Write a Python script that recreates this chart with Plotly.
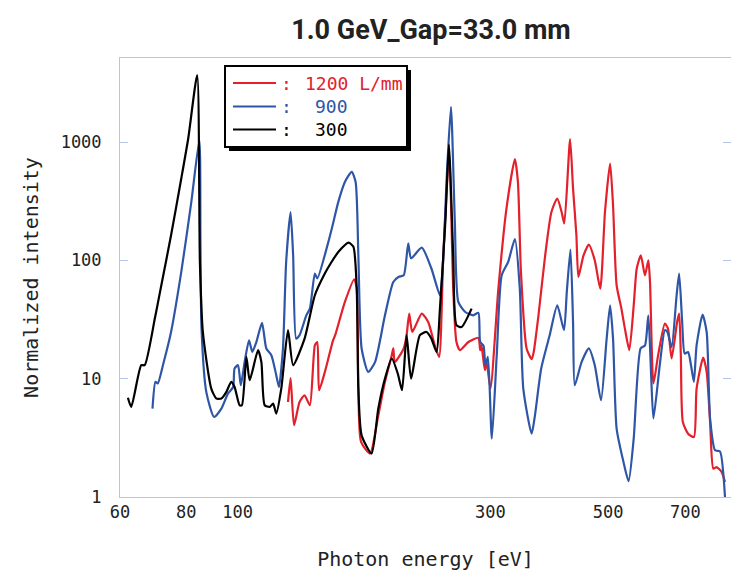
import math
import plotly.graph_objects as go

# ---------------- data ----------------
e300 = [62.1, 63.0, 65.8, 66.8, 69.8, 70.7, 71.8, 74.9, 78.3, 80.7, 83.9, 84.9, 86.0, 89.2, 91.2, 93.2,
        95.2, 97.3, 98.7, 100.9, 101.9, 103.9, 105.4, 109.3, 110.9, 112.5, 115.0, 116.7, 118.3, 120.9,
        124.5, 127.3, 133.8, 139.9, 146.0, 150.0, 155.0, 162.0, 165.4, 167.8, 169.0, 171.4, 179.0,
        184.3, 189.7, 195.4, 200.6, 204.3, 208.4, 212.5, 220.8, 227.2, 232.1, 237.4, 240.9, 246.6,
        250.4, 255.2, 258.8, 264.6, 276.4]
i300 = [6.9, 5.77, 13.0, 13.0, 32.2, 43.1, 61.6, 163, 491, 1071, 3670, 97, 24.8, 8.25, 6.79, 6.8,
        7.7, 9.4, 8.5, 5.96, 5.96, 15.3, 9.7, 17.4, 13.8, 5.96, 5.77, 6.16, 5.07, 8.25,
        25.7, 13.0, 21.8, 50.7, 77, 95, 118, 141, 130, 57.7, 8.25, 3.32, 2.33,
        5.59, 10.0, 14.8, 11.0, 7.98, 23.3, 10.0, 23.3, 24.8, 21.8, 16.8, 39.1, 211,
        950, 110, 28.3, 27.3, 39.1]

e900 = [69.1, 70.0, 70.7, 72.3, 74.9, 78.3, 81.8, 84.7, 85.1, 85.5, 87.3, 90.3, 93.2, 95.9, 98.1, 98.7,
        100.2, 101.4, 103.1, 105.1, 106.6, 108.5, 111.2, 113.3, 115.8, 118.3, 119.7, 121.8, 123.5,
        125.9, 127.3, 129.0, 130.9, 134.8, 136.9, 139.9, 141.4, 148.1, 151.0, 154.9, 159.4, 164.2,
        167.0, 169.0, 171.4, 176.4, 181.7, 189.7, 196.7, 201.2, 205.8, 209.9, 212.5, 222.6, 232.1,
        240.9, 243.4, 248.4, 252.7, 257.0, 260.9, 268.9, 278.4, 284.7, 286.9, 291.0, 293.5, 296.7,
        301.8, 308.3, 315.0, 324.0, 333.6, 340.8, 346.0, 358.8, 364.0, 374.0, 388.0, 401.0, 412.9,
        418.0, 424.7, 429.5, 432.7, 445.7, 460.0, 472.0, 485.0, 497.0, 504.5, 511.0, 519.0, 534.7,
        546.7, 559.0, 576.0, 587.0, 595.7, 602.6, 609.0, 626.0, 640.0, 647.0, 659.0, 673.6, 681.0,
        690.0, 697.6, 708.0, 717.0, 726.0, 734.6, 754.0, 767.5, 779.0, 796.0, 813.0, 831.0]
i900 = [5.59, 9.4, 9.1, 13.0, 24.8, 79.8, 312, 1036, 143, 26.5, 7.7, 4.75, 5.59, 7.48, 8.5, 12.2,
        13.0, 8.8, 13.8, 21.1, 16.8, 20.4, 29.6, 18.0, 15.8, 10.7, 8.5, 18.0, 97,
        256, 110, 21.8, 23.3, 34.3, 39.1, 77.3, 70.4, 139, 195, 312, 460, 559,
        460, 110, 18.0, 11.4, 13.8, 34.3, 65.7, 72.4, 74.7, 139, 104, 128, 85.3,
        50.7, 74.7, 559, 1980, 211, 44.5, 36.6, 34.3, 36.0, 20.4, 19.1, 13.0, 15.3,
        3.12, 15.8, 74.7, 97, 151, 57.7, 8.25, 3.43, 4.9, 12.2, 23.3, 41.7, 25.7,
        54.1, 123, 30.1, 8.8, 13.8, 18.0, 13.0, 6.57, 21.8, 41.7, 21.8, 3.79, 1.98,
        1.36, 3.12, 18.0, 19.1, 34.3, 11.4, 4.6, 13.0, 25.7, 24.8, 18.5, 50.7, 77.3,
        30.1, 16.3, 16.8, 13.0, 9.4, 19.1, 34.8, 24.8, 4.6, 2.48, 2.43, 1.0]

e1200 = [124.5, 125.9, 127.8, 130.9, 133.8, 136.9, 139.9, 141.4, 142.5, 146.2, 151.4, 152.8, 159.4,
         166.0, 167.8, 169.0, 171.0, 177.8, 184.3, 189.7, 195.4, 196.7, 198.0, 205.8, 208.4, 210.8,
         213.6, 222.6, 228.9, 235.6, 240.0, 244.4, 250.8, 255.2, 258.8, 262.8, 272.6, 284.7, 286.9,
         288.5, 292.8, 295.0, 300.0, 310.5, 321.6, 333.6, 338.0, 342.5, 351.0, 358.8, 362.0, 369.6,
         380.5, 391.0, 401.0, 408.7, 413.5, 424.0, 429.5, 435.8, 439.6, 449.5, 460.0, 472.0, 483.4,
         493.4, 504.5, 511.0, 519.0, 529.9, 538.0, 548.4, 559.0, 566.4, 576.6, 587.0, 595.7, 600.0,
         609.0, 621.6, 640.0, 648.7, 659.0, 675.0, 681.0, 686.0, 692.0, 708.0, 726.0, 734.6, 756.0,
         767.5, 779.0, 790.0, 801.0, 819.0, 831.0]
i1200 = [6.35, 10.1, 4.04, 6.35, 7.24, 5.96, 19.1, 20.4, 7.98, 11.5, 21.1, 23.3, 44.5,
         69.2, 57.7, 8.25, 2.92, 2.33, 4.9, 9.4, 15.8, 18.0, 13.8, 18.0, 23.3, 35.5,
         24.8, 35.5, 30.1, 19.1, 15.3, 110, 773, 57.7, 20.4, 17.4, 20.4, 22.1, 17.4,
         19.1, 11.8, 13.8, 8.25, 57.7, 274, 716, 460, 79.8, 18.0, 14.6, 16.8, 34.3,
         110, 256, 333, 256, 205, 1057, 405, 163, 72.4, 110, 136, 100, 57.7,
         256, 658, 292, 61.6, 39.1, 26.5, 17.4, 41.7, 85.3, 110, 74.7, 100, 65.7,
         9.1, 15.8, 29.2, 26.5, 14.8, 30.1, 35.5, 15.8, 4.3, 3.43, 3.21, 8.25, 15.1,
         11.4, 4.3, 1.74, 1.79, 1.63, 1.34]

series_names = ["1200 L/mm", "900", "300"]
x_tickvals = [60, 80, 100, 300, 500, 700]
y_tickvals = [1, 10, 100, 1000]

# ---------------- style ----------------
RED = "#e3202b"
BLUE = "#2f56a6"
BLACK = "#000000"
FRAME = "#b4c6e7"
MONO = "DejaVu Sans Mono"

W, H = 731, 571
ML, MR, MT, MB = 120, 0, 58, 74
PW, PH = W - ML - MR, H - MT - MB

def px(x):
    return (x - ML) / PW

def py(y):
    return (H - MB - y) / PH

xr = [math.log10(60), math.log10(60) + PW / 530.0]
yr = [0, PH / 118.33]

fig = go.Figure()
for e, i, c, n in [(e1200, i1200, RED, series_names[0]),
                   (e900, i900, BLUE, series_names[1]),
                   (e300, i300, BLACK, series_names[2])]:
    fig.add_trace(go.Scatter(x=e, y=i, mode="lines", name=n,
                             line=dict(color=c, width=2.2, shape="spline", smoothing=0.6),
                             showlegend=False))

fig.update_layout(
    width=W, height=H,
    margin=dict(l=ML, r=MR, t=MT, b=MB),
    paper_bgcolor="white", plot_bgcolor="white",
    title=dict(text="<b>1.0 GeV_Gap=33.0 mm</b>", x=px(431), xref="paper", xanchor="center",
               y=1 - 30 / H, yref="container", yanchor="middle",
               font=dict(family="Roboto", size=27, color="#222222")),
    xaxis=dict(type="log", range=xr, tickvals=x_tickvals, ticktext=[str(v) for v in x_tickvals],
               ticks="", showline=True, linecolor=FRAME, linewidth=1, mirror=True,
               showgrid=False, zeroline=False, ticklabelstandoff=0,
               tickfont=dict(family=MONO, size=17, color="#222222"),
               title=dict(text="Photon energy [eV]", standoff=30,
                          font=dict(family=MONO, size=20, color="#222222")),
               automargin=False),
    xaxis2=dict(type="log", range=xr, overlaying="x", anchor="y", side="bottom",
                tickvals=[100], ticks="inside", ticklen=8, tickcolor=FRAME, tickwidth=1,
                showticklabels=False, showline=True, linecolor=FRAME, mirror="ticks",
                showgrid=False, zeroline=False, automargin=False),
    yaxis=dict(type="log", range=yr, tickvals=y_tickvals, ticktext=[str(v) for v in y_tickvals],
               ticks="inside", ticklen=8, tickcolor=FRAME, tickwidth=1,
               showline=True, linecolor=FRAME, linewidth=1, mirror="ticks",
               showgrid=False, zeroline=False, ticklabelstandoff=14,
               tickfont=dict(family=MONO, size=17, color="#222222"),
               title=dict(text="Normalized intensity", standoff=16,
                          font=dict(family=MONO, size=20, color="#222222")),
               automargin=False),
)

# ---------------- manual legend ----------------
shapes = [
    dict(type="rect", xref="paper", yref="paper", x0=px(229), x1=px(411), y0=py(151), y1=py(70),
         fillcolor="black", line=dict(width=0)),
    dict(type="rect", xref="paper", yref="paper", x0=px(225), x1=px(407), y0=py(147), y1=py(66),
         fillcolor="white", line=dict(color="black", width=2)),
]
rows = [(83, RED, "1200 L/mm", 303), (106.5, BLUE, "900", 313), (129.5, BLACK, "300", 313)]
annotations = []
for (yy, col, label, xt) in rows:
    shapes.append(dict(type="line", xref="paper", yref="paper", x0=px(233), x1=px(276),
                       y0=py(yy), y1=py(yy), line=dict(color=col, width=2.2)))
    annotations.append(dict(xref="paper", yref="paper", x=px(286), y=py(yy), text=":",
                            showarrow=False, xanchor="center", yanchor="middle",
                            font=dict(family=MONO, size=18, color=col)))
    annotations.append(dict(xref="paper", yref="paper", x=px(xt), y=py(yy), text=label,
                            showarrow=False, xanchor="left", yanchor="middle",
                            font=dict(family=MONO, size=18, color=col)))
fig.update_layout(shapes=shapes, annotations=annotations)

fig.write_html("out.html")
